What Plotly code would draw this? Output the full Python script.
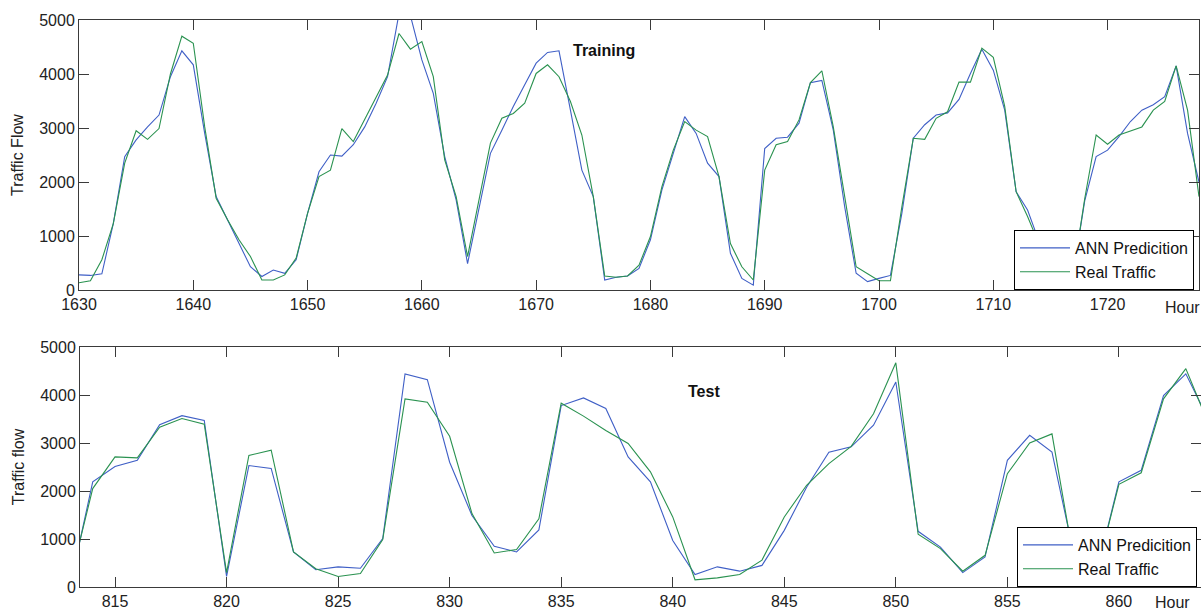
import plotly.graph_objects as go

# ---------------- data ----------------
train_hours = list(range(1630, 1729))
train_ann = [280, 270, 300, 1230, 2470, 2780, 3020, 3240, 3950, 4430,
             4170, 2900, 1730, 1300, 860, 430, 250, 370, 310, 560,
             1420, 2190, 2500, 2480, 2690, 3020, 3460, 3950, 5120, 5080,
             4260, 3640, 2470, 1670, 490, 1540, 2530, 2960, 3400, 3800,
             4200, 4400, 4430, 3330, 2220, 1730, 185, 235, 260, 400,
             930, 1850, 2530, 3210, 2900, 2350, 2100, 680, 215, 90,
             2620, 2810, 2830, 3090, 3840, 3880, 2960, 1540, 310, 155,
             215, 270, 1420, 2810, 3060, 3240, 3280, 3530, 4010, 4460,
             4070, 3330, 1820, 1480, 900, 350, 150, 320, 1650, 2470,
             2590, 2840, 3120, 3330, 3430, 3580, 4150, 2900, 2000]
train_real = [135, 170, 560, 1230, 2350, 2950, 2790, 2990, 4000, 4700,
              4570, 3020, 1700, 1300, 930, 620, 185, 185, 280, 590,
              1420, 2100, 2220, 2990, 2750, 3150, 3550, 3980, 4750, 4460,
              4600, 3950, 2410, 1730, 620, 1670, 2720, 3180, 3270, 3460,
              4010, 4170, 3950, 3490, 2870, 1730, 260, 235, 260, 460,
              990, 1910, 2590, 3120, 2960, 2840, 2100, 860, 430, 185,
              2220, 2690, 2750, 3150, 3840, 4060, 3020, 1730, 430, 300,
              170, 170, 1540, 2810, 2790, 3180, 3300, 3850, 3850, 4480,
              4310, 3400, 1820, 1360, 850, 400, 200, 310, 1690, 2870,
              2700, 2870, 2940, 3020, 3330, 3490, 4150, 3330, 1730]

test_hours = list(range(813, 865))
test_ann = [50, 2190, 2510, 2640, 3380, 3570, 3470, 220, 2530, 2470,
            730, 360, 420, 390, 1010, 4440, 4320, 2600, 1490, 850,
            730, 1190, 3780, 3940, 3720, 2710, 2190, 970, 260, 420,
            330, 450, 1180, 2080, 2810, 2920, 3370, 4270, 1160, 830,
            300, 625, 2640, 3160, 2810, 640, 300, 2190, 2430, 3990,
            4440, 3500]
test_real = [155, 2050, 2710, 2690, 3330, 3510, 3390, 300, 2740, 2850,
             730, 380, 220, 280, 990, 3920, 3850, 3140, 1530, 710,
             780, 1420, 3830, 3560, 3260, 2990, 2400, 1460, 150, 190,
             260, 560, 1460, 2120, 2570, 2930, 3610, 4670, 1100, 800,
             330, 660, 2360, 3000, 3190, 510, 300, 2140, 2380, 3920,
             4550, 3420]

y_ticks = [0, 1000, 2000, 3000, 4000, 5000]
train_xticks = [1630, 1640, 1650, 1660, 1670, 1680, 1690, 1700, 1710, 1720]
test_xticks = [815, 820, 825, 830, 835, 840, 845, 850, 855, 860]

series_names = ["ANN Predicition", "Real Traffic"]
BLUE = "#3f5fc6"
GREEN = "#2a9250"

# ---------------- figure ----------------
FONT = "Liberation Sans, Arial, sans-serif"
FS = 16
LW = 1.1
fig = go.Figure()

fig.add_trace(go.Scatter(x=train_hours, y=train_ann, mode="lines", name=series_names[0],
                         line=dict(color=BLUE, width=LW), xaxis="x", yaxis="y", legend="legend"))
fig.add_trace(go.Scatter(x=train_hours, y=train_real, mode="lines", name=series_names[1],
                         line=dict(color=GREEN, width=LW), xaxis="x", yaxis="y", legend="legend"))
fig.add_trace(go.Scatter(x=test_hours, y=test_ann, mode="lines", name=series_names[0],
                         line=dict(color=BLUE, width=LW), xaxis="x2", yaxis="y2", legend="legend2"))
fig.add_trace(go.Scatter(x=test_hours, y=test_real, mode="lines", name=series_names[1],
                         line=dict(color=GREEN, width=LW), xaxis="x2", yaxis="y2", legend="legend2"))

axis_common = dict(showline=True, linecolor="#3a3a3a", linewidth=1, mirror="ticks",
                   ticks="inside", ticklen=10, tickcolor="#3a3a3a", tickwidth=1,
                   showgrid=False, zeroline=False, automargin=False,
                   tickfont=dict(family=FONT, size=FS, color="#222222"))

W, H = 1201, 610
L, R, T, B = 79, 0, 20, 23
PW, PH = W - L - R, H - T - B


def px(xp):
    return (xp - L) / PW


def py(yp):
    return (H - B - yp) / PH


legend_common = dict(xanchor="left", yanchor="bottom", itemwidth=50,
                     bgcolor="white", bordercolor="black", borderwidth=1,
                     font=dict(family=FONT, size=FS, color="#111111"))

fig.update_layout(
    width=W, height=H,
    margin=dict(l=L, r=R, t=T, b=B, autoexpand=False),
    paper_bgcolor="white", plot_bgcolor="white",
    font=dict(family=FONT, size=FS, color="#222222"),
    xaxis=dict(domain=[0, px(1199)], range=[1630, 1728], tickvals=train_xticks,
               anchor="y", **axis_common),
    yaxis=dict(domain=[py(290), 1], range=[0, 5000], tickvals=y_ticks, anchor="x",
               title=dict(text="Traffic Flow", standoff=11, font=dict(family=FONT, size=FS)),
               **axis_common),
    xaxis2=dict(domain=[px(80), 1], range=[813.43, 863.68], tickvals=test_xticks,
                anchor="y2", **axis_common),
    yaxis2=dict(domain=[0, py(347)], range=[0, 5000], tickvals=y_ticks, anchor="x2",
                title=dict(text="Traffic flow", standoff=11, font=dict(family=FONT, size=FS)),
                **axis_common),
    legend=dict(x=px(1014), y=py(290), **legend_common),
    legend2=dict(x=px(1017), y=py(587), **legend_common),
    annotations=[
        dict(text="<b>Training</b>", x=1675.9, y=4444, xref="x", yref="y",
             showarrow=False, font=dict(family=FONT, size=FS, color="#111111")),
        dict(text="<b>Test</b>", x=841.4, y=4077, xref="x2", yref="y2",
             showarrow=False, font=dict(family=FONT, size=FS, color="#111111")),
        dict(text="Hour", x=px(1163), y=py(307), xref="paper", yref="paper",
             xanchor="left", yanchor="middle", showarrow=False,
             font=dict(family=FONT, size=FS, color="#222222")),
        dict(text="Hour", x=px(1153), y=py(602), xref="paper", yref="paper",
             xanchor="left", yanchor="middle", showarrow=False,
             font=dict(family=FONT, size=FS, color="#222222")),
    ],
)

fig.write_html(
    "out.html",
    config={"displayModeBar": False},
    post_script="document.body.style.margin='0px';document.body.style.overflow='hidden';",
)
